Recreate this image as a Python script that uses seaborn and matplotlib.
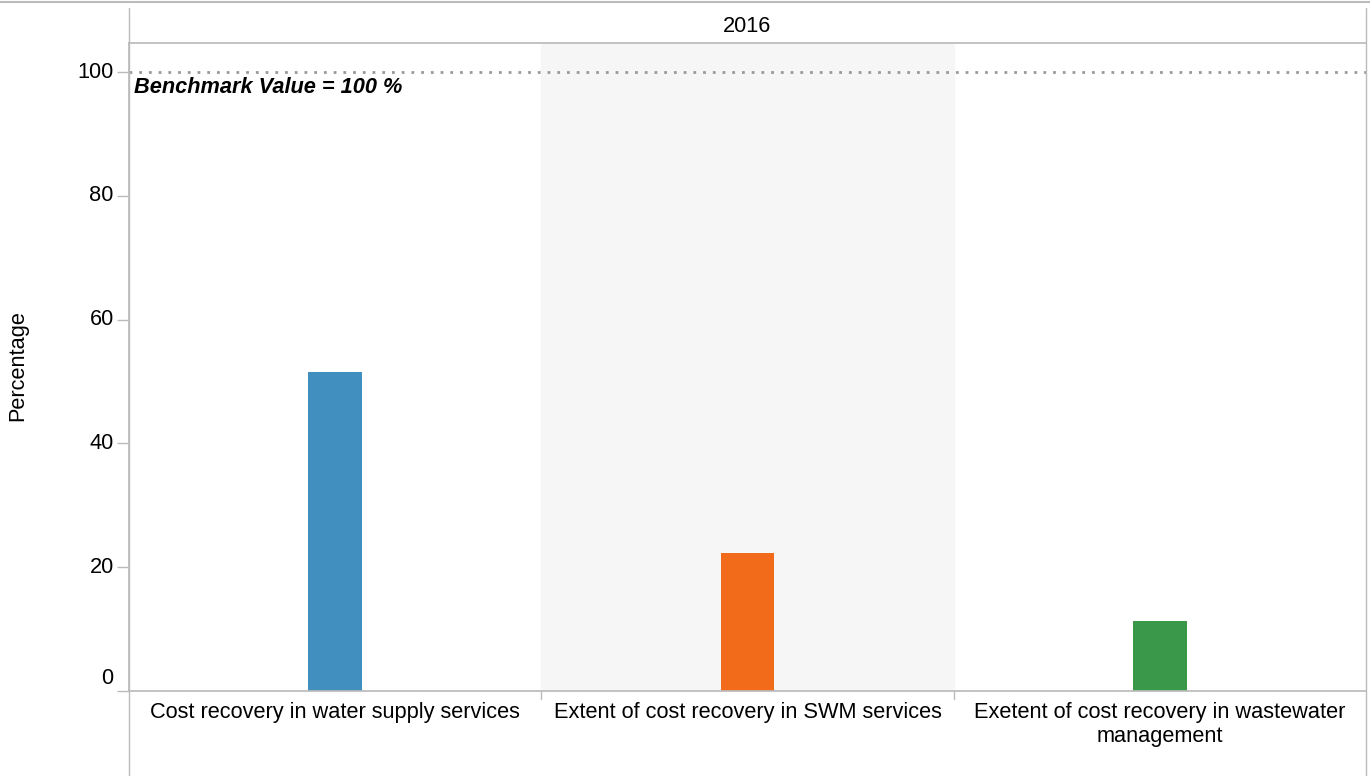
import matplotlib
matplotlib.use("Agg")
import matplotlib.pyplot as plt
import seaborn as sns
import pandas as pd
from matplotlib.lines import Line2D
from matplotlib.transforms import ScaledTranslation

categories = ["Cost recovery in water supply services",
              "Extent of cost recovery in SWM services",
              "Exetent of cost recovery in wastewater\nmanagement"]
values = [51.5, 22.3, 11.3]
colors = ["#418fbe", "#f26b1a", "#3a984a"]
year_label = "2016"
benchmark = 100
yticks = [0, 20, 40, 60, 80, 100]

sns.set_theme(style="white")
plt.rcParams['font.family'] = ['Liberation Sans', 'DejaVu Sans']
plt.rcParams['text.color'] = 'black'
plt.rcParams['axes.labelcolor'] = 'black'
plt.rcParams['xtick.color'] = 'black'
plt.rcParams['ytick.color'] = 'black'

FS = 15.7
W, H = 1370, 776
fig = plt.figure(figsize=(W/100, H/100), dpi=100)
L, R, B, T = 129, 1366, 691, 43
ax = fig.add_axes([L/W, 1 - B/H, (R-L)/W, (B-T)/H])

df = pd.DataFrame({"cat": categories, "val": values})
sns.barplot(data=df, x="cat", y="val", hue="cat", palette=colors,
            width=0.13, dodge=False, legend=False, ax=ax, saturation=1,
            edgecolor="none", linewidth=0)

ax.set_xlim(-0.5, 2.5)
ax.set_ylim(0, 104.7)
ax.axvspan(0.5, 1.5, color="#f6f6f6", zorder=0)
ax.axhline(benchmark, color="#999999", lw=2, ls=(0, (1, 2.5)), zorder=1)
ax.text(-0.487, benchmark - 0.8, "Benchmark Value = 100 %", fontsize=FS,
        fontweight="bold", fontstyle="italic", va="top", ha="left", color="black")

ax.set_yticks(yticks)
ax.set_yticklabels([str(v) for v in yticks], fontsize=FS)
ax.tick_params(axis="y", length=9, width=1, color="#bbbbbb", pad=2, left=True,
               labelcolor="black")
ax.tick_params(axis="x", length=0, pad=8, labelsize=FS, labelcolor="black")
ax.set_xlabel("")
ax.set_ylabel("")
for s in ["right"]:
    ax.spines[s].set_visible(False)
for s in ["left", "bottom", "top"]:
    ax.spines[s].set_color("#bbbbbb")
    ax.spines[s].set_visible(True)
ylabs = ax.get_yticklabels()
for lab in ylabs:
    lab.set_va("center")
ylabs[0].set_transform(ylabs[0].get_transform() + ScaledTranslation(0, 13/100, fig.dpi_scale_trans))

# figure-level frame lines (header band, axis extension, separators)
def fx(p): return p / W
def fy(p): return 1 - p / H
gc = "#bbbbbb"
fig.add_artist(Line2D([0, 1], [fy(2), fy(2)], color=gc, lw=1.5))
fig.add_artist(Line2D([fx(L), fx(L)], [fy(8), fy(776)], color=gc, lw=1))
fig.add_artist(Line2D([fx(R), fx(R)], [fy(8), fy(776)], color=gc, lw=1))
for xp in [L + (R - L) / 3, L + 2 * (R - L) / 3]:
    fig.add_artist(Line2D([fx(xp), fx(xp)], [fy(B), fy(B + 8)], color=gc, lw=1))
fig.text(fx((L + R) / 2), fy(26), year_label, ha="center", va="center", fontsize=FS,
         color="black")
fig.text(fx(18), fy(366), "Percentage", rotation=90, ha="center", va="center",
         fontsize=FS, color="black")

fig.savefig("out.png", dpi=100)
